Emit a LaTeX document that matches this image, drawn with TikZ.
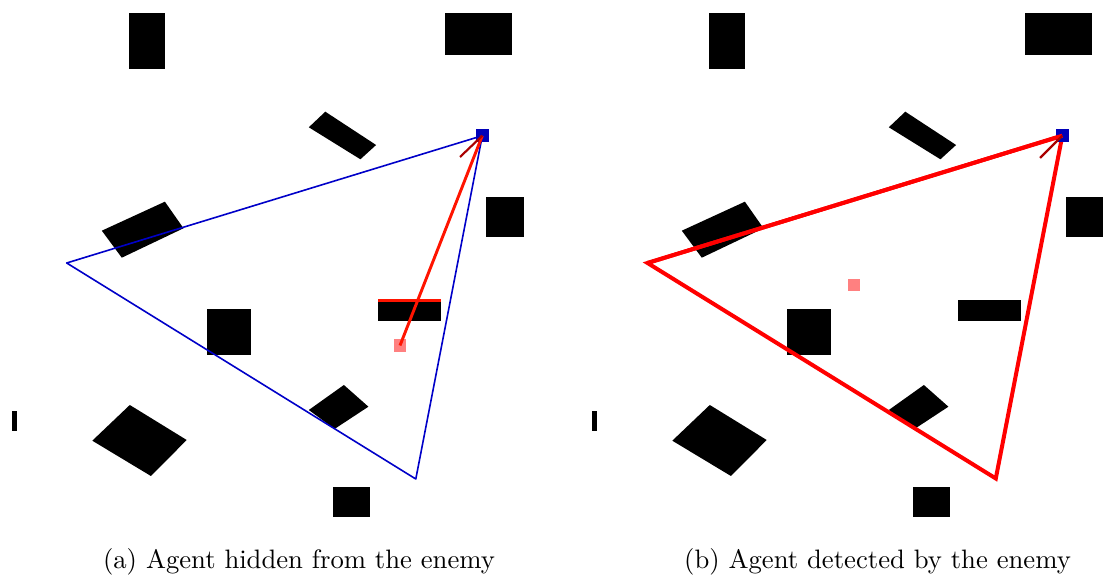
\documentclass[tikz,border=0pt]{standalone}
\definecolor{agentblue}{RGB}{0,0,185}
\definecolor{fovblue}{RGB}{0,0,200}
\definecolor{enemypink}{RGB}{255,128,128}
\definecolor{barbred}{RGB}{170,0,0}
\definecolor{rayred}{RGB}{255,20,0}
\newcommand\drawobstacles{%
  \fill[obst] (129,13) rectangle (165,69);
  \fill[obst] (444.6,13) rectangle (512.3,55);
  \fill[obst] (325.3,111.7) -- (376.1,145) -- (360.4,159.3) -- (308.8,127.3) -- cycle;
  \fill[obst] (486,197.3) rectangle (523.5,237.3);
  \fill[obst] (164.9,201.7) -- (183.5,228.3) -- (121.8,257.7) -- (101.8,230.7) -- cycle;
  \fill[obst] (378,300.5) rectangle (440.5,321.5);
  \fill[obst] (207,309.3) rectangle (251,355.3);
  \fill[obst] (343.9,385) -- (368.4,406.7) -- (334.5,429) -- (308.8,410) -- cycle;
  \fill[obst] (12.3,410.7) rectangle (16.8,431);
  \fill[obst] (129.8,405) -- (186.7,440) -- (150.9,476) -- (92.3,440.7) -- cycle;
  \fill[obst] (333.3,486.7) rectangle (370.2,517.3);
}
\begin{document}
\begin{tikzpicture}[x=0.375pt,y=-0.375pt,
  obst/.style={fill=black},
  agentsq/.style={fill=agentblue, draw=none, minimum size=4.7pt, inner sep=0pt, outer sep=0pt},
  enemysq/.style={fill=enemypink, draw=none, minimum size=4.6pt, inner sep=0pt, outer sep=0pt},
  fovthin/.style={draw=fovblue, line width=0.6pt, line join=round},
  fovthick/.style={draw=red, line width=1.5pt, line join=miter},
  ray/.style={draw=rayred, line width=1.1pt},
  heading/.style={draw=barbred, line width=0.8pt},
  caption/.style={anchor=base, inner sep=0pt, font=\normalsize}]
\useasboundingbox (0,0) rectangle (1103,579);
\begin{scope}
  \clip (0,0) rectangle (1103,579);
  % ---------- panel (a) ----------
  \drawobstacles
  \coordinate (a1) at (482.3,135.7);
  \coordinate (a2) at (66.7,263);
  \coordinate (a3) at (415.8,479);
  \draw[fovthin] (a1) -- (a2) -- (a3) -- cycle;
  \draw[draw=rayred, line width=1.1pt] (378,300.8) -- (440.5,300.8);
  \node[enemysq] (ea) at (400,345.5) {};
  \node[agentsq] (aa) at (482.3,135.7) {};
  \draw[ray] (ea.center) -- (aa.center);
  \coordinate (ha) at (460,157);
  \draw[heading] (ha) -- (aa.center);
  % ---------- panel (b) ----------
  \begin{scope}[shift={(580,0)}]
    \drawobstacles
    \coordinate (b1) at (482.3,135.7);
    \coordinate (b2) at (67.5,263);
    \coordinate (b3) at (415.8,478.5);
    \node[enemysq] (eb) at (274,285) {};
    \draw[fovthick] (b1) -- (b2) -- (b3) -- cycle;
    \node[agentsq] (ab) at (482.3,135.7) {};
    \draw[fovthick] (b2) -- (ab.center);
    \coordinate (hb) at (460,158);
    \draw[heading] (hb) -- (ab.center);
  \end{scope}
\end{scope}
\node[caption] (capa) at (299,569) {(a) Agent hidden from the enemy};
\node[caption] (capb) at (877.5,569) {(b) Agent detected by the enemy};
\end{tikzpicture}
\end{document}
